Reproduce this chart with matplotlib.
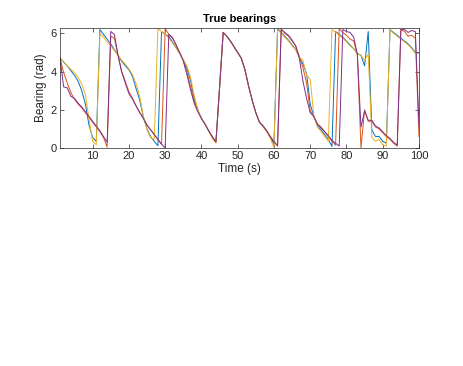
import numpy as np
import matplotlib
matplotlib.use('Agg')
import matplotlib.pyplot as plt

# time axis (s)
t = np.arange(1, 101)

# bearings (rad), one list per target
b_blue = [4.72, 4.5, 4.3, 4.05, 3.8, 3.5, 3.0, 2.3, 1.2, 0.55,
          0.35, 6.2, 5.95, 5.7, 5.45, 5.15, 4.85, 4.55, 4.3, 4.1,
          3.75, 3.1, 2.5, 1.6, 1.0, 0.6, 0.35, 0.12, 6.1, 5.95,
          5.85, 5.55, 5.25, 4.95, 4.6, 4.15, 3.55, 2.6, 2.0, 1.55,
          1.25, 0.9, 0.55, 0.3, 3.15, 6.05, 5.85, 5.6, 5.3, 5.0,
          4.7, 4.1, 3.25, 2.5, 1.85, 1.35, 1.15, 0.9, 0.55, 0.2,
          6.25, 6.05, 5.85, 5.65, 5.4, 5.15, 4.75, 4.4, 3.9, 2.3,
          1.65, 1.15, 0.95, 0.7, 0.45, 0.08, 6.1, 5.95, 5.8, 5.6,
          5.4, 5.2, 4.95, 4.85, 4.3, 6.1, 0.95, 0.6, 0.6, 0.35,
          0.25, 6.2, 6.05, 5.9, 5.75, 5.6, 5.45, 5.25, 5.0, 5.0]

b_orange = [4.72, 3.95, 3.4, 2.9, 2.55, 2.3, 2.1, 1.85, 1.6, 1.35,
            1.1, 0.85, 0.55, 0.05, 5.85, 5.75, 4.85, 4.0, 3.5, 2.95,
            2.6, 2.2, 1.85, 1.55, 1.2, 0.95, 0.7, 0.45, 0.2, 6.26,
            5.95, 5.75, 5.4, 5.0, 4.6, 3.95, 3.25, 2.45, 1.95, 1.55,
            1.25, 0.9, 0.6, 0.3, 3.15, 6.05, 5.85, 5.6, 5.3, 5.0,
            4.7, 4.1, 3.25, 2.5, 1.85, 1.35, 1.15, 0.9, 0.6, 0.3,
            0.15, 6.25, 6.0, 5.85, 5.6, 5.35, 4.8, 4.2, 3.4, 1.95,
            1.65, 1.25, 1.1, 0.85, 0.6, 0.35, 0.15, 6.25, 6.05, 5.9,
            5.7, 5.6, 4.9, 0.0, 2.0, 1.4, 1.4, 1.1, 1.0, 0.8,
            0.6, 0.45, 0.25, 0.1, 6.2, 6.1, 5.85, 5.9, 5.75, 0.6]

b_yellow = [4.72, 4.5, 4.3, 4.12, 3.95, 3.7, 3.35, 2.8, 1.5, 0.35,
            0.17, 6.0, 5.8, 5.55, 5.35, 5.1, 4.85, 4.6, 4.4, 4.15,
            3.85, 3.35, 2.7, 1.65, 0.95, 0.55, 0.45, 6.25, 6.1, 5.95,
            5.75, 5.5, 5.25, 4.95, 4.65, 4.3, 3.7, 2.75, 2.0, 1.55,
            1.25, 0.9, 0.5, 0.25, 3.15, 6.05, 5.85, 5.6, 5.3, 5.0,
            4.7, 4.1, 3.25, 2.5, 1.85, 1.35, 1.1, 0.85, 0.5, 0.02,
            6.2, 6.0, 5.8, 5.6, 5.35, 5.15, 4.75, 4.6, 3.8, 3.6,
            1.7, 1.1, 0.85, 0.6, 0.35, 6.2, 6.05, 5.9, 5.75, 5.55,
            5.35, 5.2, 4.95, 4.85, 4.6, 4.9, 0.55, 0.35, 0.45, 0.15,
            0.1, 6.2, 6.0, 5.85, 5.7, 5.55, 5.4, 5.2, 4.95, 4.95]

b_purple = [4.72, 3.2, 3.15, 2.7, 2.6, 2.35, 2.15, 1.9, 1.65, 1.4,
            1.15, 0.9, 0.6, 0.3, 6.1, 5.95, 4.85, 4.0, 3.4, 2.85,
            2.55, 2.2, 1.85, 1.55, 1.2, 0.95, 0.7, 0.45, 0.2, 0.0,
            5.95, 5.8, 5.4, 5.0, 4.55, 3.85, 3.05, 2.35, 1.9, 1.55,
            1.25, 0.9, 0.6, 0.32, 3.15, 6.05, 5.85, 5.6, 5.3, 5.0,
            4.7, 4.1, 3.25, 2.5, 1.85, 1.35, 1.15, 0.9, 0.6, 0.35,
            0.1, 6.2, 6.05, 5.9, 5.65, 5.35, 4.7, 3.5, 2.6, 1.85,
            1.65, 1.25, 1.05, 0.85, 0.65, 0.4, 0.25, 0.1, 6.2, 6.1,
            6.05, 5.8, 4.9, 1.1, 1.95, 1.45, 1.45, 1.15, 1.05, 0.85,
            0.65, 0.5, 0.3, 0.15, 6.2, 6.2, 6.05, 6.15, 6.1, 1.15]

series = [b_blue, b_orange, b_yellow, b_purple]
colors = ['#0072BD', '#D95319', '#EDB120', '#7E2F8E']

plt.rcParams['font.family'] = ['Liberation Sans', 'DejaVu Sans']

fig = plt.figure(figsize=(4.64, 3.66), dpi=100)
ax = fig.add_axes([0.1293, 0.5956, 0.7737, 0.3279])

for vals, c in zip(series, colors):
  ax.plot(t, vals, color=c, lw=0.7)

ax.set_xlim(1, 100)
ax.set_ylim(0, 2 * np.pi)
ax.set_xticks(np.arange(10, 101, 10))
ax.set_yticks([0, 2, 4, 6])
ax.tick_params(direction='in', length=3, width=0.5, labelsize=8,
               colors='#262626', top=True, right=True, pad=2.5)
for s in ax.spines.values():
  s.set_linewidth(0.5)
  s.set_color('#262626')

ax.set_title('True bearings', fontsize=8, fontweight='bold', pad=4)
ax.set_xlabel('Time (s)', fontsize=8.5, color='#262626', labelpad=1)
ax.set_ylabel('Bearing (rad)', fontsize=8.5, color='#262626', labelpad=2)

plt.savefig('out.png', dpi=100)
plt.close()
